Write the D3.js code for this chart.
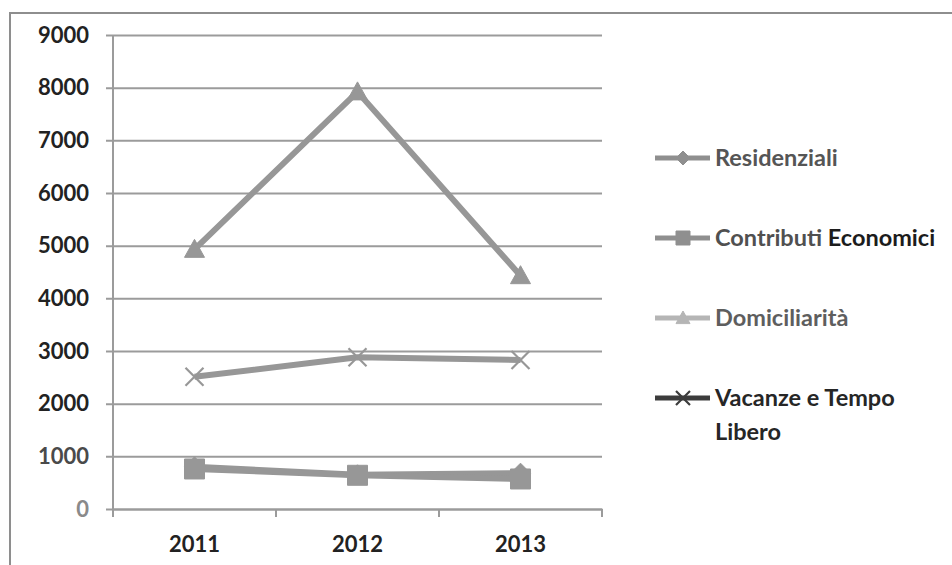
<!DOCTYPE html>
<html>
<head>
<meta charset="utf-8">
<script src="https://cdn.jsdelivr.net/npm/d3@7"></script>
<style>
  html, body { margin: 0; padding: 0; background: #fff; }
  svg { display: block; }
  text { font-family: Lato, "Open Sans", sans-serif; }
</style>
</head>
<body>
<svg id="chart" width="952" height="565"></svg>
<script>
// Years on the category axis
const years = ["2011", "2012", "2013"];

// Values per service type
const residenziali = [800, 650, 680];
const contributiEconomici = [760, 640, 570];
const domiciliarita = [4930, 7920, 4430];
const vacanzeTempoLibero = [2510, 2880, 2830];

// Value axis ticks
const yTicks = [0, 1000, 2000, 3000, 4000, 5000, 6000, 7000, 8000, 9000];

// Legend labels (the last one wraps onto two lines)
const seriesNames = ["Residenziali", "Contributi Economici", "Domiciliarità", "Vacanze e Tempo Libero"];

const series = [
  { name: seriesNames[0], values: residenziali, marker: "diamond" },
  { name: seriesNames[1], values: contributiEconomici, marker: "square" },
  { name: seriesNames[2], values: domiciliarita, marker: "triangle" },
  { name: seriesNames[3], values: vacanzeTempoLibero, marker: "cross" }
];

const svg = d3.select("#chart");
const plot = { left: 113, right: 602, top: 35, bottom: 509 };
const lineGray = "#979797";
const gridGray = "#9b9b9b";

// Outer chart frame
svg.append("rect")
  .attr("x", 10).attr("y", 13)
  .attr("width", 960).attr("height", 600)
  .attr("fill", "none")
  .attr("stroke", "#8e8e8e")
  .attr("stroke-width", 2);

const x = d3.scaleBand().domain(years).range([plot.left, plot.right]).padding(0);
const y = d3.scaleLinear().domain([0, 9000]).range([plot.bottom, plot.top]);

// Horizontal gridlines + value axis
const yAxis = d3.axisLeft(y)
  .tickValues(yTicks)
  .tickSize(-(plot.right - plot.left))
  .tickSizeOuter(0)
  .tickPadding(24)
  .tickFormat(d3.format("d"));

const gy = svg.append("g")
  .attr("transform", `translate(${plot.left},0)`)
  .call(yAxis);
gy.select(".domain").remove();
gy.selectAll(".tick line")
  .attr("x1", -7)
  .attr("stroke", gridGray)
  .attr("stroke-width", 2);
gy.selectAll(".tick text")
  .attr("fill", d => d === 0 ? "#8a8a8a" : (d === 1000 ? "#4a4a4a" : "#222"))
  .style("font-size", "22px")
  .style("font-weight", "700");

// Vertical axis line
svg.append("line")
  .attr("x1", plot.left).attr("x2", plot.left)
  .attr("y1", plot.top).attr("y2", plot.bottom + 1)
  .attr("stroke", gridGray).attr("stroke-width", 2);

// Category axis with tick marks between years
const xAxis = d3.axisBottom(x).tickSize(0).tickPadding(27);
const gx = svg.append("g")
  .attr("transform", `translate(0,${plot.bottom})`)
  .call(xAxis);
gx.select(".domain")
  .attr("stroke", gridGray).attr("stroke-width", 2);
gx.selectAll(".tick text")
  .attr("fill", "#222")
  .style("font-size", "22px")
  .style("font-weight", "700");

const boundaries = [plot.left].concat(years.map(d => x(d) + x.bandwidth()));
gx.selectAll(".sep")
  .data(boundaries)
  .join("line")
  .attr("class", "sep")
  .attr("x1", d => d).attr("x2", d => d)
  .attr("y1", 0).attr("y2", 8)
  .attr("stroke", gridGray).attr("stroke-width", 2);

// Marker shapes
function markerPath(type, s) {
  switch (type) {
    case "diamond": return `M0,${-s}L${s},0L0,${s}L${-s},0Z`;
    case "square": return `M${-s},${-s}H${s}V${s}H${-s}Z`;
    case "triangle": return `M0,${-s}L${s},${s * 0.8}H${-s}Z`;
    case "cross": return `M${-s},${-s}L${s},${s}M${s},${-s}L${-s},${s}`;
  }
}

function drawMarker(g, type, size, color) {
  const p = g.append("path").attr("d", markerPath(type, size));
  if (type === "cross") {
    p.attr("fill", "none").attr("stroke", color).attr("stroke-width", 2.2);
  } else {
    p.attr("fill", color).attr("stroke", color).attr("stroke-width", 1)
      .attr("stroke-linejoin", "round");
  }
}

const cx = d => x(d) + x.bandwidth() / 2;
const line = d3.line()
  .x((d, i) => cx(years[i]))
  .y(d => y(d));

const markerSize = { diamond: 10, square: 10, triangle: 10, cross: 9 };

series.forEach(s => {
  const g = svg.append("g");
  g.append("path")
    .attr("d", line(s.values))
    .attr("fill", "none")
    .attr("stroke", lineGray)
    .attr("stroke-width", 6)
    .attr("stroke-linejoin", "round");
  s.values.forEach((v, i) => {
    const m = g.append("g").attr("transform", `translate(${cx(years[i])},${y(v)})`);
    drawMarker(m, s.marker, markerSize[s.marker], lineGray);
  });
});

// Legend
const legendRows = [
  { y: 158, lineColor: "#8f8f8f", parts: [["Residenziali", "#555"]] },
  { y: 238, lineColor: "#8f8f8f", parts: [["Contributi ", "#505050"], ["Economici", "#1c1c1c"]] },
  { y: 318, lineColor: "#b5b5b5", parts: [["Domiciliarità", "#5e5e5e"]] },
  { y: 398, lineColor: "#3c3c3c", parts: [["Vacanze e Tempo", "#262626"]], extra: "Libero" }
];

legendRows.forEach((row, i) => {
  const g = svg.append("g").attr("transform", `translate(0,${row.y})`);
  g.append("line")
    .attr("x1", 655).attr("x2", 710)
    .attr("y1", 0).attr("y2", 0)
    .attr("stroke", row.lineColor).attr("stroke-width", 5);
  const m = g.append("g").attr("transform", "translate(683,0)");
  drawMarker(m, series[i].marker, 7, row.lineColor);
  const t = g.append("text")
    .attr("x", 715).attr("y", 0)
    .attr("dy", "0.35em")
    .style("font-size", "23.5px")
    .style("font-weight", "700");
  row.parts.forEach(p => t.append("tspan").attr("fill", p[1]).text(p[0]));
  if (row.extra) {
    g.append("text")
      .attr("x", 715).attr("y", 34)
      .attr("dy", "0.35em")
      .attr("fill", "#262626")
      .style("font-size", "23.5px")
      .style("font-weight", "700")
      .text(row.extra);
  }
});
</script>
</body>
</html>
